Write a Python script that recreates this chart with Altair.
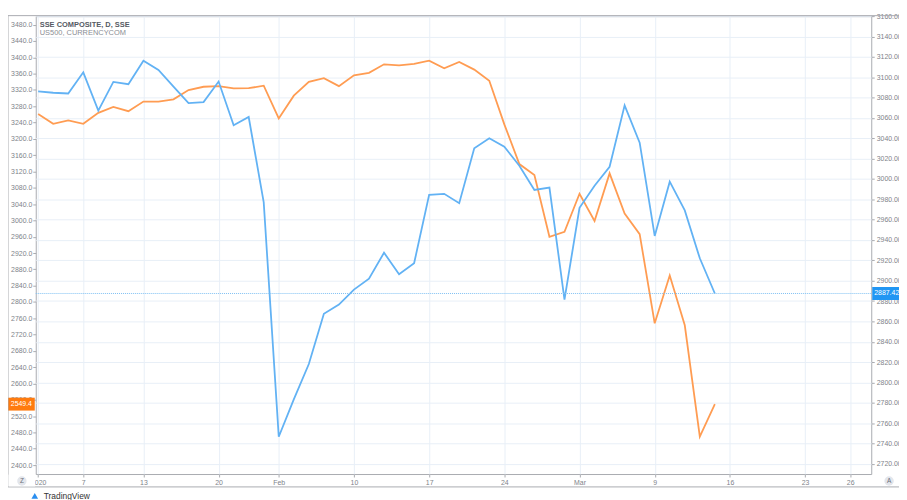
import altair as alt
import pandas as pd

# ---- data ----
dates = ["Jan 2", "Jan 3", "Jan 6", "Jan 7", "Jan 8", "Jan 9", "Jan 10", "Jan 13", "Jan 14",
         "Jan 15", "Jan 16", "Jan 17", "Jan 20", "Jan 21", "Jan 22", "Jan 23",
         "Feb 3", "Feb 4", "Feb 5", "Feb 6", "Feb 7", "Feb 10", "Feb 11", "Feb 12", "Feb 13",
         "Feb 14", "Feb 17", "Feb 18", "Feb 19", "Feb 20", "Feb 21", "Feb 24", "Feb 25",
         "Feb 26", "Feb 27", "Feb 28",
         "Mar 2", "Mar 3", "Mar 4", "Mar 5", "Mar 6", "Mar 9", "Mar 10", "Mar 11", "Mar 12", "Mar 13"]

sse = [3086.0, 3084.7, 3084.0, 3104.8, 3067.2, 3095.4, 3093.1, 3116.2, 3107.1, 3090.8,
       3074.6, 3075.5, 3095.7, 3052.8, 3060.9, 2977.0,
       2746.6, 2783.3, 2818.1, 2867.5, 2876.5, 2891.2, 2901.9, 2927.5, 2906.4, 2917.1,
       2984.4, 2985.4, 2976.2, 3030.2,
       3039.9, 3031.7, 3012.9, 2989.2, 2991.5, 2881.4, 2971.7, 2993.4, 3011.9, 3072.3,
       3035.6, 2944.0, 2997.3, 2969.1, 2922.0, 2887.426]

us500 = [3261.2, 3236.9, 3245.2, 3236.9, 3263.7, 3278.2, 3267.8, 3291.4, 3291.4, 3297.0,
         3319.6, 3327.8, 3329.3, 3323.7, 3324.4, 3330.3, 3250.0,
         3306.0, 3340.0, 3348.7, 3329.3, 3356.0, 3361.9, 3382.8, 3380.3, 3383.7, 3391.8,
         3373.0, 3388.6, 3369.9, 3342.4,
         3235.5, 3138.2, 3111.5, 2959.8, 2972.0, 3065.3, 2998.7, 3115.4, 3016.7, 2966.4,
         2747.6, 2865.0, 2742.8, 2469.8, 2549.4]

tick_idx = [0, 3, 7, 12, 16, 21, 26, 31, 36, 41, 46, 51, 54]
tick_labels = ["2020", "7", "13", "20", "Feb", "10", "17", "24", "Mar", "9", "16", "23", "26"]

left_ticks = list(range(2400, 3481, 40))
right_ticks = list(range(2720, 3161, 20))

title_main = "SSE COMPOSITE, D, SSE"
title_cmp = "US500, CURRENCYCOM"

# ---- styling ----
W, H = 843, 462
BLUE = "#62b2f4"
ORANGE = "#ff9c52"
BLUE_BOX = "#2196f3"
ORANGE_BOX = "#ff7b0f"
GRID = "#e8eff7"
FRAME = "#a9abb0"
LABEL = "#80838a"
FONT = "Liberation Sans"

df = pd.DataFrame({"idx": list(range(len(dates))), "date": dates, "sse": sse, "us500": us500})

lab_arr = [""] * (max(tick_idx) + 1)
for i, s in zip(tick_idx, tick_labels):
    lab_arr[i] = s
label_expr = "[" + ",".join("'" + s + "'" for s in lab_arr) + "][datum.value]"

xscale = alt.Scale(domain=[-0.16, 55.4], nice=False, zero=False)
yL = alt.Scale(domain=[2378, 3501], nice=False, zero=False)
yR = alt.Scale(domain=[2710, 3160], nice=False, zero=False)

x_axis = alt.Axis(values=tick_idx, labelExpr=label_expr, grid=True, gridColor=GRID,
                  gridWidth=1, domain=False, tickSize=3, tickColor=FRAME,
                  labelColor=LABEL, labelFontSize=7, labelFont=FONT, labelPadding=2,
                  labelFlush=False, labelOverlap=False, title=None)
left_axis = alt.Axis(orient="left", values=left_ticks, format=".1f", grid=False,
                     domain=False, tickSize=3, tickColor=FRAME, labelColor=LABEL,
                     labelFontSize=7, labelFont=FONT, labelPadding=1, title=None,
                     labelOverlap=False)
right_axis = alt.Axis(orient="right", values=right_ticks, format=".3f", grid=True,
                      gridColor=GRID, gridWidth=1, domain=False, tickSize=3,
                      tickColor=FRAME, labelColor=LABEL, labelFontSize=7, labelFont=FONT,
                      labelPadding=2, title=None, labelOverlap=False)

base = alt.Chart(df)

# ---- orange (US500, left scale) ----
orange_line = base.mark_line(color=ORANGE, strokeWidth=1.8).encode(
    x=alt.X("idx:Q", scale=xscale, axis=x_axis),
    y=alt.Y("us500:Q", scale=yL, axis=left_axis),
    order="idx:Q",
)
last_o = alt.Chart(pd.DataFrame({"v": [us500[-1]]}))
orange_box = last_o.mark_rect(color=ORANGE_BOX, yOffset=-6.5, y2Offset=6.5).encode(
    x=alt.value(-28), x2=alt.value(-1),
    y=alt.Y("v:Q", scale=yL, axis=left_axis), y2="v",
)
orange_txt = last_o.mark_text(color="white", fontSize=7, font=FONT, align="center",
                              baseline="middle").encode(
    x=alt.value(-14.5), y=alt.Y("v:Q", scale=yL, axis=left_axis),
    text=alt.Text("v:Q", format=".1f"),
)
orange_layer = alt.layer(orange_line, orange_box, orange_txt)

# ---- blue (SSE, right scale) ----
blue_line = base.mark_line(color=BLUE, strokeWidth=1.8).encode(
    x=alt.X("idx:Q", scale=xscale, axis=x_axis),
    y=alt.Y("sse:Q", scale=yR, axis=right_axis),
    order="idx:Q",
)
last_b = alt.Chart(pd.DataFrame({"v": [sse[-1]]}))
blue_rule = last_b.mark_rule(color="#7fc0f3", strokeDash=[1, 1], strokeWidth=1).encode(
    x=alt.value(0), x2=alt.value(W), y=alt.Y("v:Q", scale=yR, axis=right_axis),
)
blue_box = last_b.mark_rect(color=BLUE_BOX, yOffset=-6.5, y2Offset=6.5).encode(
    x=alt.value(W + 1), x2=alt.value(W + 40),
    y=alt.Y("v:Q", scale=yR, axis=right_axis), y2="v",
)
blue_txt = last_b.mark_text(color="white", fontSize=7, font=FONT, align="left",
                            baseline="middle").encode(
    x=alt.value(W + 3), y=alt.Y("v:Q", scale=yR, axis=right_axis),
    text=alt.Text("v:Q", format=".3f"),
)
blue_layer = alt.layer(blue_line, blue_rule, blue_box, blue_txt)

# ---- decorations: titles, frame, corner buttons ----
t1 = alt.Chart(pd.DataFrame({"t": [title_main]})).mark_text(
    align="left", baseline="middle", fontSize=7.5, fontWeight="bold", font=FONT,
    color="#555a63").encode(x=alt.value(4), y=alt.value(8.5), text="t:N")
t2 = alt.Chart(pd.DataFrame({"t": [title_cmp]})).mark_text(
    align="left", baseline="middle", fontSize=7.5, font=FONT,
    color="#8a8d94").encode(x=alt.value(4), y=alt.value(16.8), text="t:N")

deco_df = alt.Chart(pd.DataFrame({"k": [0]}))
frame_left = deco_df.mark_rule(color=FRAME, strokeWidth=1).encode(
    x=alt.value(-28), y=alt.value(-0.5), y2=alt.value(475))
frame_top = deco_df.mark_rule(color=FRAME, strokeWidth=1).encode(
    x=alt.value(-28), x2=alt.value(W + 28), y=alt.value(-0.5))
frame_bottom = deco_df.mark_rule(color=FRAME, strokeWidth=1).encode(
    x=alt.value(-28), x2=alt.value(W + 28), y=alt.value(475))
corner_cover = deco_df.mark_rect(color="white").encode(
    x=alt.value(-27.5), x2=alt.value(-0.6), y=alt.value(462.6), y2=alt.value(474.5))
btns = alt.Chart(pd.DataFrame({"b": ["Z", "A"], "px": [-14, W + 18]}))
btn_circ = btns.mark_point(shape="circle", filled=True, color="#e3e6ec", size=90, opacity=1).encode(
    x=alt.X("px:Q", scale=None), y=alt.value(469))
btn_txt = btns.mark_text(fontSize=6.5, font=FONT, color="#6b6f78", baseline="middle").encode(
    x=alt.X("px:Q", scale=None), y=alt.value(469), text="b:N")
tv_logo = deco_df.mark_point(shape="triangle-up", filled=True, color="#2a8ef0", size=45, opacity=1).encode(
    x=alt.value(-1), y=alt.value(484))
tv_txt = alt.Chart(pd.DataFrame({"t": ["TradingView"]})).mark_text(
    align="left", baseline="middle", fontSize=8.5, font=FONT, color="#333").encode(
    x=alt.value(8), y=alt.value(484), text="t:N")

deco = alt.layer(t1, t2, frame_left, frame_top, frame_bottom, corner_cover,
                 btn_circ, btn_txt, tv_logo, tv_txt)

chart = alt.layer(orange_layer, blue_layer, deco).resolve_scale(y="independent").properties(
    width=W, height=H,
    autosize=alt.AutoSizeParams(type="none"),
    padding={"left": 28, "top": 6, "right": 28, "bottom": 24},
    background="white",
).configure_view(stroke=FRAME, strokeWidth=1)

chart.save("out.html", embed_options={"renderer": "svg", "actions": False})
